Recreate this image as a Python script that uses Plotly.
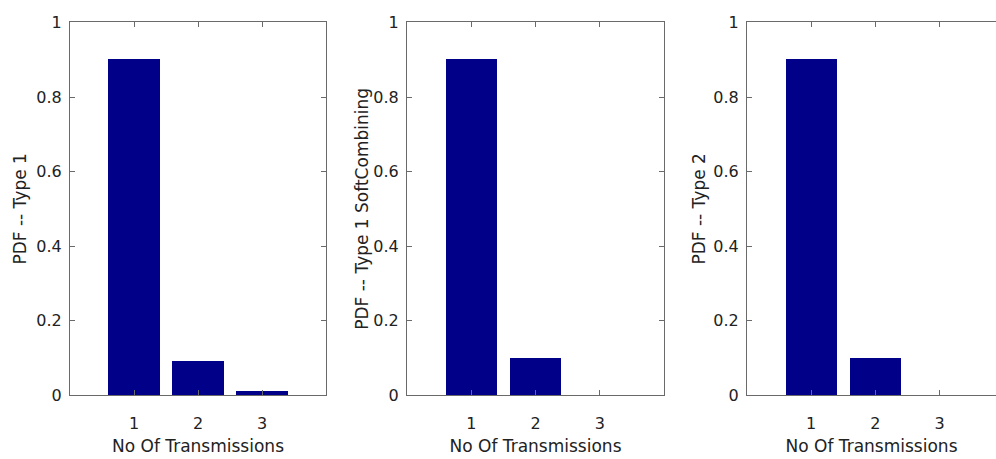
import plotly.graph_objects as go

# Number of transmissions needed per packet and the probability of each
transmissions = [1, 2, 3]
pdf_type1 = [0.90, 0.09, 0.01]
pdf_type1_soft = [0.90, 0.10, 0.0]
pdf_type2 = [0.90, 0.10, 0.0]

y_titles = ["PDF -- Type 1", "PDF -- Type 1 SoftCombining", "PDF -- Type 2"]
y_tickvals = [0, 0.2, 0.4, 0.6, 0.8, 1]
y_ticktext = ["0", "0.2", "0.4", "0.6", "0.8", "1"]
x_title = "No Of Transmissions"

W, H = 996, 459
BAR = "#000088"
AXIS = "#6a6a6a"
TICK_FONT = dict(family="DejaVu Sans, Arial, sans-serif", size=16, color="#222222")
TITLE_FONT = dict(family="DejaVu Sans, Arial, sans-serif", size=17, color="#222222")

# pixel boxes of the three axes: (left, right, x-range max)
boxes = [(70, 326, 4.0), (407, 664, 4.0), (747, 996, (996 - 747) / 64.2)]
y_title_standoff = [5, 0, 3]
top_px, bottom_px = 14, 403

fig = go.Figure()
series = [pdf_type1, pdf_type1_soft, pdf_type2]
for i, vals in enumerate(series):
    n = "" if i == 0 else str(i + 1)
    fig.add_trace(go.Bar(
        x=transmissions, y=vals, width=0.8,
        marker=dict(color=BAR, line=dict(width=0)),
        xaxis="x" + n, yaxis="y" + n, showlegend=False,
    ))
    left, right, xmax = boxes[i]
    last = i == 2
    fig.update_layout(**{
        "xaxis" + n: dict(
            domain=[left / W, right / W], range=[0, xmax], anchor="y" + n,
            tickvals=transmissions, ticks="inside", ticklen=5, tickcolor=AXIS,
            showline=True, linecolor=AXIS, linewidth=1, mirror="ticks",
            showgrid=False, zeroline=False, tickfont=TICK_FONT,
            ticklabelstandoff=13,
            title=dict(text=x_title, font=TITLE_FONT, standoff=8),
        ),
        "yaxis" + n: dict(
            domain=[1 - bottom_px / H, 1 - top_px / H], range=[0, 1], anchor="x" + n,
            tickvals=y_tickvals, ticktext=y_ticktext, ticks="inside", ticklen=5,
            tickcolor=AXIS, showline=True, linecolor=AXIS, linewidth=1,
            mirror=False if last else "ticks",
            showgrid=False, zeroline=False, tickfont=TICK_FONT,
            ticklabelstandoff=4,
            title=dict(text=y_titles[i], font=TITLE_FONT, standoff=y_title_standoff[i]),
        ),
    })

fig.update_layout(
    width=W, height=H,
    margin=dict(l=0, r=0, t=0, b=0),
    paper_bgcolor="white", plot_bgcolor="white",
    bargap=0,
)

fig.write_html("out.html")
